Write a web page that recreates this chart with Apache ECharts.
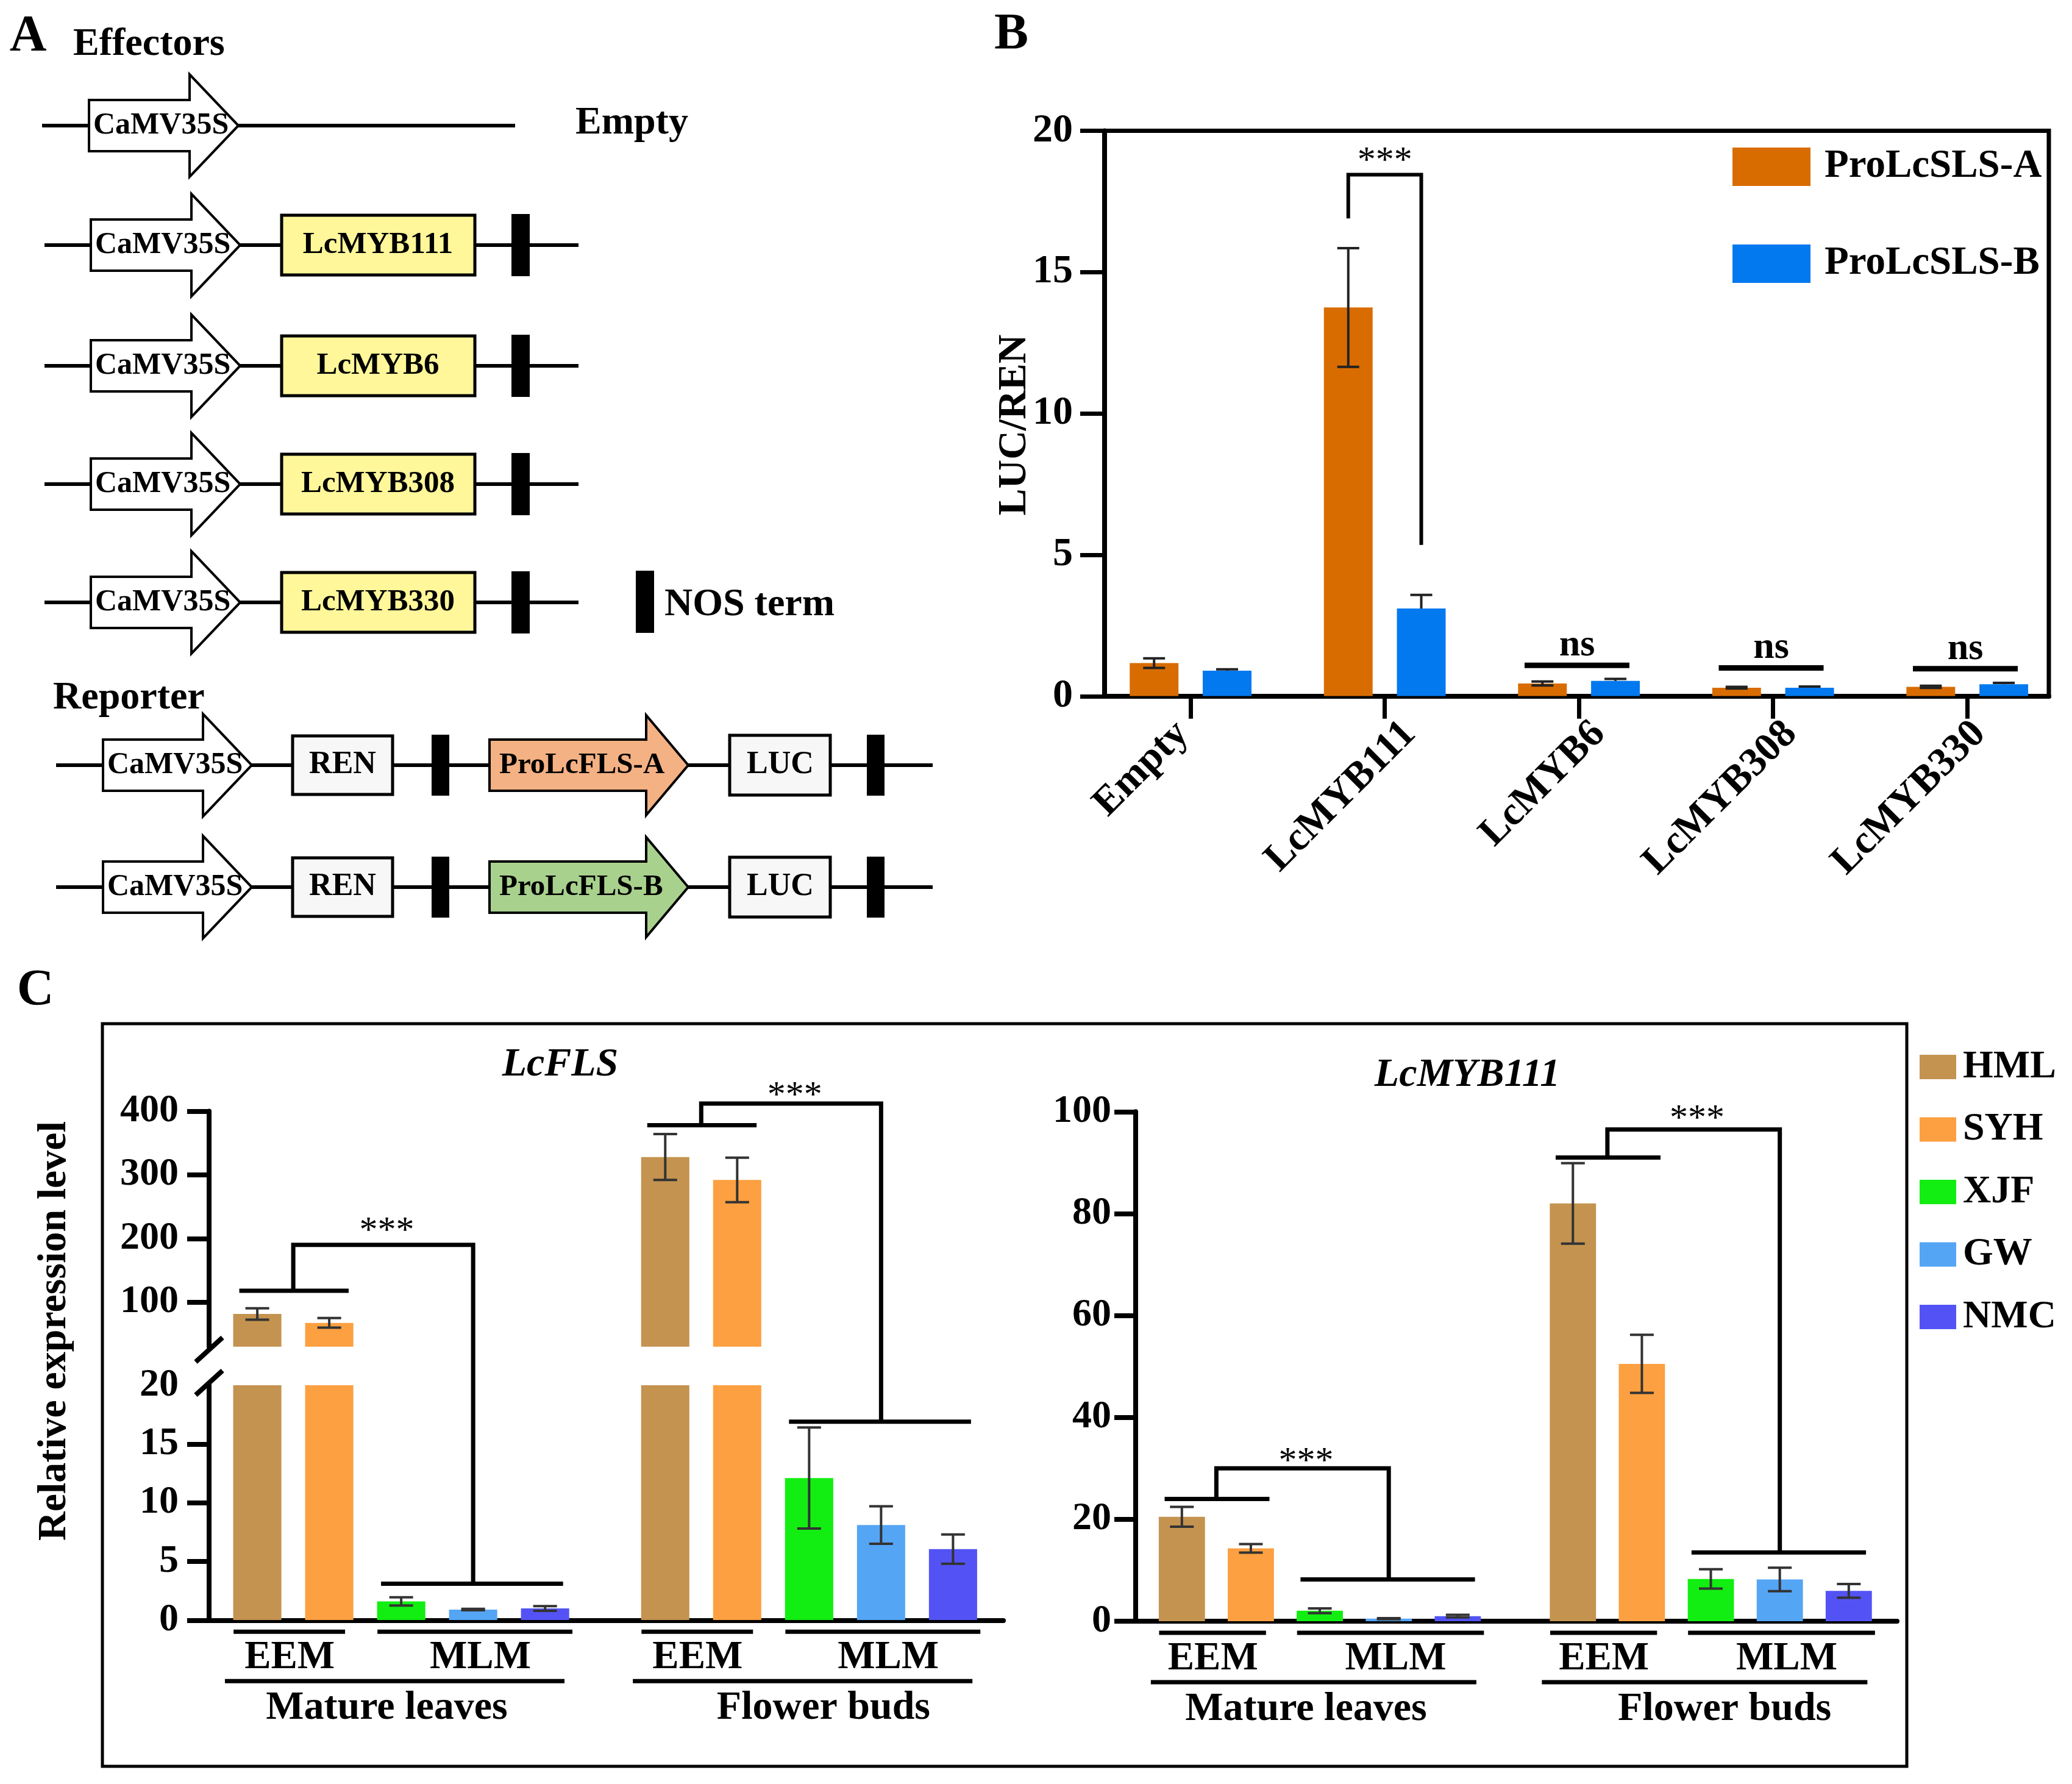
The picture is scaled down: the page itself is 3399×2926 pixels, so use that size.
<!DOCTYPE html>
<html><head><meta charset="utf-8">
<script src="https://cdn.jsdelivr.net/npm/echarts@6/dist/echarts.min.js"></script>
<style>html,body{margin:0;padding:0;background:#fff}#c{width:3399px;height:2926px}</style>
</head><body><div id="c"></div>
<script>
// ================= DATA =================
// Panel A / B
const effectorNames = ['Empty', 'LcMYB111', 'LcMYB6', 'LcMYB308', 'LcMYB330'];
const reporterNames = ['ProLcFLS-A', 'ProLcFLS-B'];
const bSeriesNames = ['ProLcSLS-A', 'ProLcSLS-B'];
const bMeanA = [1.17, 13.75, 0.45, 0.30, 0.33];
const bErrA  = [0.17, 2.10, 0.07, 0.03, 0.04];
const bMeanB = [0.90, 3.10, 0.54, 0.30, 0.42];
const bErrB  = [0.05, 0.48, 0.07, 0.04, 0.05];
const bSig = ['', '***', 'ns', 'ns', 'ns'];
const bSigLevel = [null, 18.45, 1.09, 1.00, 0.97];
const bBracketEnds = [16.9, 5.35];   // left / right bracket leg ends (LcMYB111)
const bStarLevel = 19.2;
const bXTicks = [0, 1, 2, 3, 4];

// Panel C
const varieties = ['HML', 'SYH', 'XJF', 'GW', 'NMC'];
const tissues = ['Mature leaves', 'Flower buds'];
const methods = ['EEM', 'MLM'];
const flsLeaves    = [81.5, 67.5, 1.6, 0.9, 1.0];
const flsLeavesErr = [9.0, 7.5, 0.35, 0.06, 0.2];
const flsBuds      = [328, 292, 12.1, 8.1, 6.05];
const flsBudsErr   = [36, 35, 4.3, 1.6, 1.25];
const mybLeaves    = [20.5, 14.3, 2.05, 0.5, 1.0];
const mybLeavesErr = [1.95, 0.85, 0.45, 0.1, 0.25];
const mybBuds      = [82, 50.5, 8.3, 8.2, 5.95];
const mybBudsErr   = [7.9, 5.7, 1.9, 2.3, 1.35];
const flsUpperTicks = [100, 200, 300, 400];
const flsLowerTicks = [0, 5, 10, 15];
const flsLowerLabels = [0, 5, 10, 15, 20];
// significance brackets: [EEM line, bracket top, MLM line, stars]
const flsSigLeaves = [118, 190, 3.1, 225];   // EEM/top/stars on upper axis, MLM on lower axis
const flsSigBuds   = [378, 412, 16.9, 438];
const mybSigLeaves = [24.0, 30.0, 8.2, 33.0];
const mybSigBuds   = [91.0, 96.5, 13.5, 100.3];

// ================= STYLE / LAYOUT =================
const FONT = '"Liberation Serif", "Times New Roman", serif';
const bColors = ['#D96C00', '#0379F0'];
const varietyColors = ['#C4934F', '#FCA041', '#12EE12', '#55A5F5', '#5353F5'];
const budsOffset = 5.67;   // gap between tissue groups (in bar slots)
const bOffset = 0.188;
const tissueCenter = [1.8, 2.2];
const bLabelNudge = [-13, 41, 33, 29, 20];   // px nudge of rotated category labels

const chart = echarts.init(document.getElementById('c'), null, {width: 3399, height: 2926});

function makeRender(o) {
  return function (params, api) {
    const x = api.value(0) + (o.offset || 0), v = api.value(1), e = api.value(2);
    const base = api.coord([x, 0]);
    const top = api.coord([x, v]);
    const w = api.size([o.barW, 0])[0];
    const hi = api.coord([x, v + e]);
    const lo = o.upOnly ? top : api.coord([x, v - e]);
    const es = {stroke: o.errColor, lineWidth: o.errWidth};
    const ch = [
      {type: 'rect', shape: {x: top[0] - w / 2, y: top[1], width: w, height: base[1] - top[1]}, style: {fill: api.visual('color')}},
      {type: 'line', shape: {x1: top[0], y1: hi[1], x2: top[0], y2: lo[1]}, style: es},
      {type: 'line', shape: {x1: top[0] - o.cap / 2, y1: hi[1], x2: top[0] + o.cap / 2, y2: hi[1]}, style: es}
    ];
    if (!o.upOnly) ch.push({type: 'line', shape: {x1: top[0] - o.cap / 2, y1: lo[1], x2: top[0] + o.cap / 2, y2: lo[1]}, style: es});
    return {type: 'group', children: ch};
  };
}

const axisLineStyle = {color: '#000', width: 8};
const labelFont = (size) => ({color: '#000', fontFamily: FONT, fontWeight: 'bold', fontSize: size});

const xC = (g, showLine) => ({
  gridIndex: g, type: 'value', min: -0.67, max: 10.37,
  axisLine: {show: showLine, onZero: false, lineStyle: axisLineStyle},
  axisTick: {show: false}, axisLabel: {show: false}, splitLine: {show: false}
});

const series = [];
// Panel B
[bMeanA, bMeanB].forEach((means, k) => {
  const errs = k === 0 ? bErrA : bErrB;
  series.push({
    type: 'custom', name: bSeriesNames[k], xAxisIndex: 0, yAxisIndex: 0, clip: true,
    itemStyle: {color: bColors[k]},
    encode: {x: 0, y: 1},
    data: means.map((v, i) => [i, v, errs[i]]),
    renderItem: makeRender({offset: k === 0 ? -bOffset : bOffset, barW: 0.251, cap: 36, upOnly: k === 1, errColor: '#222', errWidth: 4})
  });
});
// Panel C
varieties.forEach((name, j) => {
  const flsData = [[j, flsLeaves[j], flsLeavesErr[j]], [j + budsOffset, flsBuds[j], flsBudsErr[j]]];
  const mybData = [[j, mybLeaves[j], mybLeavesErr[j]], [j + budsOffset, mybBuds[j], mybBudsErr[j]]];
  const r = makeRender({barW: 0.67, cap: 39, errColor: '#333', errWidth: 4});
  [[1, flsData], [2, flsData], [3, mybData]].forEach(([g, d]) => {
    series.push({
      type: 'custom', name, xAxisIndex: g, yAxisIndex: g, clip: true,
      itemStyle: {color: varietyColors[j]}, encode: {x: 0, y: 1}, data: d, renderItem: r
    });
  });
});

const option = {
  animation: false,
  backgroundColor: '#fff',
  grid: [
    {left: 1812, top: 214.6, width: 1549, height: 927.2, show: true, borderColor: '#000', borderWidth: 7, backgroundColor: 'transparent'},
    {left: 343, top: 1822.5, width: 1303, height: 386.3},
    {left: 343, top: 2272, width: 1303, height: 385.3},
    {left: 1863, top: 1823.3, width: 1249, height: 835.7}
  ],
  xAxis: [
    {gridIndex: 0, type: 'value', min: -0.443, max: 4.42,
     axisLine: {show: true, onZero: false, lineStyle: axisLineStyle},
     axisTick: {show: true, customValues: bXTicks, length: 37, lineStyle: {color: '#000', width: 7}},
     axisLabel: {show: false},
     splitLine: {show: false}},
    xC(1, false), xC(2, true), xC(3, true)
  ],
  yAxis: [
    {gridIndex: 0, type: 'value', min: 0, max: 20, interval: 5,
     axisLine: {show: true, onZero: false, lineStyle: axisLineStyle},
     axisTick: {show: true, length: 40, lineStyle: {color: '#000', width: 7}},
     axisLabel: Object.assign({margin: 52}, labelFont(66)), splitLine: {show: false}},
    {gridIndex: 1, type: 'value', min: 30, max: 400,
     axisLine: {show: true, onZero: false, lineStyle: axisLineStyle},
     axisTick: {show: true, customValues: flsUpperTicks, length: 36, lineStyle: {color: '#000', width: 8}},
     axisLabel: Object.assign({customValues: flsUpperTicks, margin: 50}, labelFont(64)), splitLine: {show: false}},
    {gridIndex: 2, type: 'value', min: 0, max: 20,
     axisLine: {show: true, onZero: false, lineStyle: axisLineStyle},
     axisTick: {show: true, customValues: flsLowerTicks, length: 36, lineStyle: {color: '#000', width: 8}},
     axisLabel: Object.assign({customValues: flsLowerLabels, margin: 50}, labelFont(64)), splitLine: {show: false}},
    {gridIndex: 3, type: 'value', min: 0, max: 100, interval: 20,
     axisLine: {show: true, onZero: false, lineStyle: axisLineStyle},
     axisTick: {show: true, length: 35, lineStyle: {color: '#000', width: 8}},
     axisLabel: Object.assign({margin: 40}, labelFont(64)), splitLine: {show: false}}
  ],
  legend: [
    {data: bSeriesNames, left: 2837, top: 236, orient: 'vertical', icon: 'rect', itemWidth: 128, itemHeight: 63, itemGap: 94,
     selectedMode: false, textStyle: Object.assign({lineHeight: 63, padding: [0, 0, 0, 18]}, labelFont(65))},
    {data: varieties, left: 3144, top: 1713, orient: 'vertical', icon: 'rect', itemWidth: 60, itemHeight: 40, itemGap: 38.5,
     selectedMode: false, textStyle: Object.assign({lineHeight: 40, padding: [0, 0, 0, 6]}, labelFont(64))}
  ],
  series
};
chart.setOption(option);

// ================= GRAPHICS =================
function T(text, x, y, size, o) {
  o = o || {};
  return {type: 'text', x, y, z: 120, rotation: o.rot || 0,
    style: {text, fill: '#000', fontSize: size, fontWeight: o.weight || 'bold', fontStyle: o.italic ? 'italic' : 'normal',
      fontFamily: FONT, align: o.align || 'center', verticalAlign: o.va || 'middle'}};
}
function L(points, w, z) {
  return {type: 'polyline', z: z || 110, shape: {points}, style: {stroke: '#000', lineWidth: w, fill: null}};
}
function R(x0, y0, x1, y1, fill, stroke, w, z) {
  return {type: 'rect', z: z || 112, shape: {x: x0, y: y0, width: x1 - x0, height: y1 - y0}, style: {fill, stroke: stroke || null, lineWidth: w || 0}};
}
function Arrow(x0, xb, xt, yc, bh, hh, fill) {
  return {type: 'polygon', z: 112, shape: {points: [[x0, yc - bh], [xb, yc - bh], [xb, yc - hh], [xt, yc], [xb, yc + hh], [xb, yc + bh], [x0, yc + bh]]},
    style: {fill, stroke: '#000', lineWidth: 4}};
}
const G = [];
// ---- Panel A ----
G.push(T('A', 46, 61, 84, {}), T('Effectors', 120, 73, 64, {align: 'left'}));
const rowY = [206, 402, 600, 794, 988];
effectorNames.forEach((name, i) => {
  const y = rowY[i];
  if (i === 0) {
    G.push(L([[69, y], [845, y]], 6, 105));
    G.push(Arrow(146, 311, 391, y, 42, 84, '#fff'));
    G.push(T('CaMV35S', 153, y, 50, {align: 'left'}));
    G.push(T(name, 944, y - 4, 64, {align: 'left'}));
  } else {
    G.push(L([[73, y], [949, y]], 6, 105));
    G.push(Arrow(149, 314, 394, y, 42, 84, '#fff'));
    G.push(T('CaMV35S', 156, y, 50, {align: 'left'}));
    G.push(R(462, y - 49, 779, y + 49, '#FFF799', '#000', 5));
    G.push(T(name, 620, y, 51));
    G.push(R(839, y - 51, 869, y + 51, '#000'));
  }
});
G.push(R(1043, 936, 1073, 1038, '#000'), T('NOS term', 1090, 992, 64, {align: 'left'}));
G.push(T('Reporter', 87, 1145, 64, {align: 'left'}));
const repY = [1255, 1455];
const repFill = ['#F4B183', '#A9D18E'];
reporterNames.forEach((name, i) => {
  const y = repY[i];
  G.push(L([[92, y], [1530, y]], 6, 105));
  G.push(Arrow(169, 333, 413, y, 42, 84, '#fff'));
  G.push(T('CaMV35S', 176, y, 50, {align: 'left'}));
  G.push(R(480, y - 48, 644, y + 48, '#F7F7F7', '#000', 5), T('REN', 562, y, 52));
  G.push(R(708, y - 50, 737, y + 50, '#000'));
  G.push(Arrow(803, 1060, 1129, y, 42, 82, repFill[i]));
  G.push(T(name, 819, y, 49, {align: 'left'}));
  G.push(R(1197, y - 49, 1362, y + 49, '#F7F7F7', '#000', 5), T('LUC', 1280, y, 52));
  G.push(R(1422, y - 50, 1451, y + 50, '#000'));
});

// ---- Panel B annotations ----
const P = (g, x, y) => chart.convertToPixel({gridIndex: g}, [x, y]);
G.push(T('B', 1659, 58, 84));
G.push(T('LUC/REN', 1665, 697, 66, {rot: Math.PI / 2}));
bXTicks.forEach((v, i) => {
  const p = P(0, v, 0);
  G.push(T(effectorNames[i], p[0] + bLabelNudge[i], p[1] + 52, 66, {rot: Math.PI / 4, align: 'right'}));
});
bSig.forEach((s, i) => {
  if (s === '***') {
    G.push(L([P(0, i - bOffset, bBracketEnds[0]), P(0, i - bOffset, bSigLevel[i]), P(0, i + bOffset, bSigLevel[i]), P(0, i + bOffset, bBracketEnds[1])], 6));
    const sp = P(0, i, bStarLevel);
    G.push(T(s, sp[0], sp[1] + 14, 60, {weight: 'normal'}));
  } else if (s === 'ns') {
    const a = P(0, i - 0.28, bSigLevel[i]), b = P(0, i + 0.26, bSigLevel[i]);
    G.push(L([a, b], 9));
    G.push(T(s, (a[0] + b[0]) / 2, a[1] - 32, 62));
  }
});

// ---- Panel C ----
G.push(T('C', 58, 1626, 84));
G.push({type: 'rect', z: 100, shape: {x: 168, y: 1679, width: 2960, height: 1218}, style: {fill: null, stroke: '#000', lineWidth: 5}});
G.push(T('LcFLS', 919, 1747, 66, {italic: true}));
G.push(T('LcMYB111', 2407, 1764, 66, {italic: true}));
G.push(T('Relative expression level', 90, 2183, 66, {rot: Math.PI / 2}));
// axis break marks
const ub = P(1, -0.67, 30), lt = P(2, -0.67, 20);
G.push(L([[ub[0] - 22, ub[1] + 25], [ub[0] + 22, ub[1] - 15]], 8));
G.push(L([[lt[0] - 22, lt[1] + 16], [lt[0] + 22, lt[1] - 24]], 8));

function cAnnot(gTop, gBot, off, sig) {
  G.push(L([P(gTop, off - 0.25, sig[0]), P(gTop, off + 1.27, sig[0])], 7));
  G.push(L([P(gTop, off + 0.5, sig[0]), P(gTop, off + 0.5, sig[1]), P(gTop, off + 3.0, sig[1]), P(gBot, off + 3.0, sig[2])], 7));
  G.push(L([P(gBot, off + 1.72, sig[2]), P(gBot, off + 4.25, sig[2])], 7));
  const s = P(gTop, off + 1.8, sig[3]);
  G.push(T('***', s[0], s[1] + 15, 60, {weight: 'normal'}));
}
cAnnot(1, 2, 0, flsSigLeaves);
cAnnot(1, 2, budsOffset, flsSigBuds);
cAnnot(3, 3, 0, mybSigLeaves);
cAnnot(3, 3, budsOffset, mybSigBuds);

function cGroups(g, k) {
  const off = k === 0 ? 0 : budsOffset;
  const base = P(g, 0, 0)[1];
  const X = (v) => P(g, off + v, 0)[0];
  G.push(L([[X(-0.33), base + 19], [X(1.22), base + 19]], 7));
  G.push(L([[X(1.67), base + 19], [X(4.38), base + 19]], 7));
  G.push(L([[X(-0.45), base + 100], [X(4.27), base + 100]], 7));
  G.push(T(methods[0], X(0.45), base + 62, 65));
  G.push(T(methods[1], X(3.1), base + 62, 65));
  G.push(T(tissues[k], X(tissueCenter[k]), base + 145, 66));
}
cGroups(2, 0);
cGroups(2, 1);
cGroups(3, 0);
cGroups(3, 1);

chart.setOption({graphic: {elements: G}});
</script>
</body></html>
